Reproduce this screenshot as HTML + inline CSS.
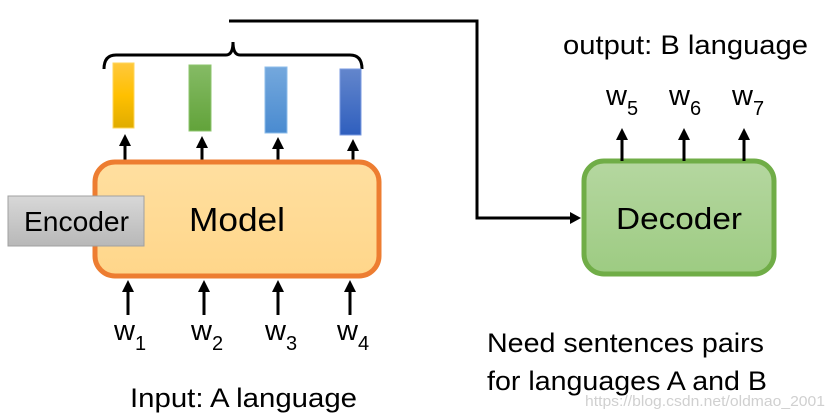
<!DOCTYPE html>
<html><head><meta charset="utf-8"><style>
body{margin:0;background:#fff;}
svg{display:block;font-family:"Liberation Sans",sans-serif;}
</style></head><body>
<svg width="833" height="418" viewBox="0 0 833 418" xmlns="http://www.w3.org/2000/svg">
<defs>
<linearGradient id="gy" x1="0" y1="0" x2="0" y2="1"><stop offset="0" stop-color="#FFC83D"/><stop offset="0.5" stop-color="#FFC000"/><stop offset="1" stop-color="#E0AC00"/></linearGradient>
<linearGradient id="gg" x1="0" y1="0" x2="0" y2="1"><stop offset="0" stop-color="#85BB65"/><stop offset="1" stop-color="#62A33A"/></linearGradient>
<linearGradient id="gb" x1="0" y1="0" x2="0" y2="1"><stop offset="0" stop-color="#74A8DD"/><stop offset="1" stop-color="#4A8BD0"/></linearGradient>
<linearGradient id="gd" x1="0" y1="0" x2="0" y2="1"><stop offset="0" stop-color="#6386CC"/><stop offset="1" stop-color="#2F5FBE"/></linearGradient>
<linearGradient id="gm" x1="0" y1="0" x2="0" y2="1"><stop offset="0" stop-color="#FFDFA0"/><stop offset="1" stop-color="#FFD68A"/></linearGradient>
<linearGradient id="gdc" x1="0" y1="0" x2="0" y2="1"><stop offset="0" stop-color="#B5D7A0"/><stop offset="1" stop-color="#9DCB82"/></linearGradient>
<linearGradient id="ge" x1="0" y1="0" x2="0" y2="1"><stop offset="0" stop-color="#D8D8D8"/><stop offset="1" stop-color="#B8B8B8"/></linearGradient>
</defs>
<polyline points="229,21 477,21 477,218 572,218" fill="none" stroke="#000" stroke-width="3"/>
<path d="M570,212 L581,218 L570,224 z" fill="#000"/>
<path d="M104,69 Q104,55 116,55 L226,55 Q233,55 233,42 Q233,55 240,55 L350,55 Q362,55 362,69" fill="none" stroke="#000" stroke-width="3"/>
<rect x="113" y="63" width="21" height="65" fill="url(#gy)" stroke="#FFD65A" stroke-width="1"/>
<rect x="189" y="65" width="22" height="66" fill="url(#gg)" stroke="#8CC46C" stroke-width="1"/>
<rect x="265" y="67" width="22" height="66" fill="url(#gb)" stroke="#8CBCEA" stroke-width="1"/>
<rect x="340" y="69" width="21" height="66" fill="url(#gd)" stroke="#7A9AE0" stroke-width="1"/>
<g stroke="#000" stroke-width="3">
<line x1="125" y1="160" x2="125" y2="142"/><line x1="202" y1="160" x2="202" y2="145"/>
<line x1="278" y1="160" x2="278" y2="146"/><line x1="353" y1="160" x2="353" y2="148"/>
</g>
<g fill="#000">
<path d="M119,146 L125,134 L131,146 z"/><path d="M196,148 L202,136 L208,148 z"/>
<path d="M272,149 L278,137 L284,149 z"/><path d="M347,151 L353,139 L359,151 z"/>
</g>
<rect x="95" y="162" width="284" height="114" rx="20" fill="url(#gm)" stroke="#ED7D31" stroke-width="5"/>
<text x="189" y="231" font-size="33" textLength="96" lengthAdjust="spacingAndGlyphs">Model</text>
<rect x="8" y="196" width="136" height="50" fill="url(#ge)" stroke="#A0A0A0" stroke-width="1"/>
<text x="24" y="231" font-size="28" textLength="105" lengthAdjust="spacingAndGlyphs">Encoder</text>
<g stroke="#000" stroke-width="3">
<line x1="128" y1="315" x2="128" y2="290"/><line x1="204" y1="315" x2="204" y2="290"/>
<line x1="278" y1="315" x2="278" y2="290"/><line x1="350" y1="315" x2="350" y2="290"/>
</g>
<g fill="#000">
<path d="M122,292 L128,280 L134,292 z"/><path d="M198,292 L204,280 L210,292 z"/>
<path d="M272,292 L278,280 L284,292 z"/><path d="M344,292 L350,280 L356,292 z"/>
</g>
<g font-size="29">
<text x="114" y="340">w<tspan font-size="20" dy="10">1</tspan></text>
<text x="191" y="340">w<tspan font-size="20" dy="10">2</tspan></text>
<text x="265" y="340">w<tspan font-size="20" dy="10">3</tspan></text>
<text x="337" y="340">w<tspan font-size="20" dy="10">4</tspan></text>
</g>
<text x="130" y="407" font-size="27" textLength="227" lengthAdjust="spacingAndGlyphs">Input: A language</text>
<rect x="584" y="161" width="190" height="113" rx="20" fill="url(#gdc)" stroke="#70AD47" stroke-width="5"/>
<text x="616" y="229" font-size="31" textLength="126" lengthAdjust="spacingAndGlyphs">Decoder</text>
<g stroke="#000" stroke-width="3">
<line x1="622" y1="161" x2="622" y2="138"/><line x1="684" y1="161" x2="684" y2="138"/><line x1="744" y1="161" x2="744" y2="138"/>
</g>
<g fill="#000">
<path d="M616,140 L622,128 L628,140 z"/><path d="M678,140 L684,128 L690,140 z"/><path d="M738,140 L744,128 L750,140 z"/>
</g>
<g font-size="29">
<text x="606" y="105">w<tspan font-size="20" dy="10">5</tspan></text>
<text x="669" y="105">w<tspan font-size="20" dy="10">6</tspan></text>
<text x="732" y="105">w<tspan font-size="20" dy="10">7</tspan></text>
</g>
<text x="563" y="54" font-size="27" textLength="245" lengthAdjust="spacingAndGlyphs">output: B language</text>
<text x="487" y="352" font-size="27" textLength="277" lengthAdjust="spacingAndGlyphs">Need sentences pairs</text>
<text x="487" y="390" font-size="27" textLength="280" lengthAdjust="spacingAndGlyphs">for languages A and B</text>
<text x="585" y="406" font-size="15" fill="#d0d0d0" textLength="240" lengthAdjust="spacingAndGlyphs">https://blog.csdn.net/oldmao_2001</text>
</svg>
</body></html>
